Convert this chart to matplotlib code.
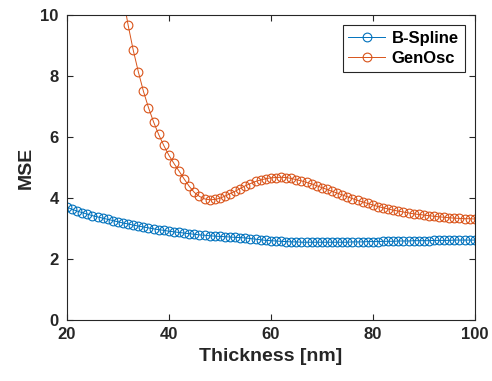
import matplotlib
matplotlib.use("Agg")
import matplotlib.pyplot as plt

plt.rcParams['font.family'] = ['Liberation Sans', 'DejaVu Sans']
plt.rcParams['font.weight'] = 'bold'

# B-Spline fit, 20..100 nm
thick_bs = list(range(20, 101))
mse_bs = [3.70, 3.63, 3.57, 3.52, 3.47, 3.42, 3.38, 3.34, 3.30, 3.26,
          3.22, 3.18, 3.15, 3.11, 3.08, 3.05, 3.02, 2.99, 2.96, 2.94,
          2.91, 2.89, 2.87, 2.85, 2.83, 2.81, 2.79, 2.78, 2.76, 2.75,
          2.74, 2.73, 2.72, 2.71, 2.70, 2.69, 2.67, 2.65, 2.63, 2.61,
          2.60, 2.59, 2.58, 2.57, 2.56, 2.56, 2.55, 2.55, 2.55, 2.55,
          2.55, 2.55, 2.55, 2.55, 2.55, 2.55, 2.56, 2.56, 2.56, 2.57,
          2.57, 2.57, 2.58, 2.58, 2.58, 2.59, 2.59, 2.59, 2.60, 2.60,
          2.60, 2.60, 2.61, 2.61, 2.61, 2.61, 2.62, 2.62, 2.62, 2.62,
          2.62]

# GenOsc fit, 30..100 nm (values above 10 are off the axes)
thick_go = list(range(30, 101))
mse_go = [11.70, 10.60,
          9.67, 8.85, 8.14, 7.50, 6.96, 6.49, 6.08, 5.72, 5.40, 5.13,
          4.88, 4.62, 4.38, 4.18, 4.05, 3.97, 3.94, 3.95, 3.99, 4.06,
          4.14, 4.22, 4.31, 4.40, 4.47, 4.54, 4.59, 4.63, 4.66, 4.67,
          4.68, 4.67, 4.64, 4.60, 4.56, 4.51, 4.46, 4.40, 4.34, 4.28,
          4.22, 4.16, 4.10, 4.04, 3.98, 3.92, 3.87, 3.82, 3.77, 3.72,
          3.68, 3.64, 3.60, 3.57, 3.54, 3.51, 3.48, 3.46, 3.44, 3.42,
          3.40, 3.38, 3.37, 3.35, 3.34, 3.33, 3.32, 3.32, 3.31]

blue = '#0072BD'
orange = '#D95319'

fig = plt.figure(figsize=(4.92, 3.81), dpi=100)
ax = fig.add_axes([0.136, 0.16, 0.829, 0.801])

ax.plot(thick_bs, mse_bs, '-o', color=blue, lw=0.7, ms=6.3, mfc='none',
        mew=0.8, label='B-Spline')
ax.plot(thick_go, mse_go, '-o', color=orange, lw=0.7, ms=6.3, mfc='none',
        mew=0.8, label='GenOsc')

ax.set_xlim(20, 100)
ax.set_ylim(0, 10)
ax.set_xticks([20, 40, 60, 80, 100])
ax.set_yticks([0, 2, 4, 6, 8, 10])
ax.tick_params(direction='in', top=True, right=True, labelsize=12,
               length=4, width=0.8, colors='#262626')
ax.tick_params(axis='y', pad=6)
ax.tick_params(axis='x', pad=5)
for s in ax.spines.values():
    s.set_color('#262626')
    s.set_linewidth(0.8)

ax.set_xlabel('Thickness [nm]', fontsize=14, fontweight='bold', color='#262626')
ax.set_ylabel('MSE', fontsize=14, fontweight='bold', color='#262626')

leg = ax.legend(loc='upper right', fontsize=12, fancybox=False,
                edgecolor='#262626', framealpha=1, borderpad=0.35,
                handlelength=2.2, handletextpad=0.4, borderaxespad=0.6,
                labelspacing=0.3)
leg.get_frame().set_linewidth(0.8)

fig.savefig('out.png', dpi=100)
